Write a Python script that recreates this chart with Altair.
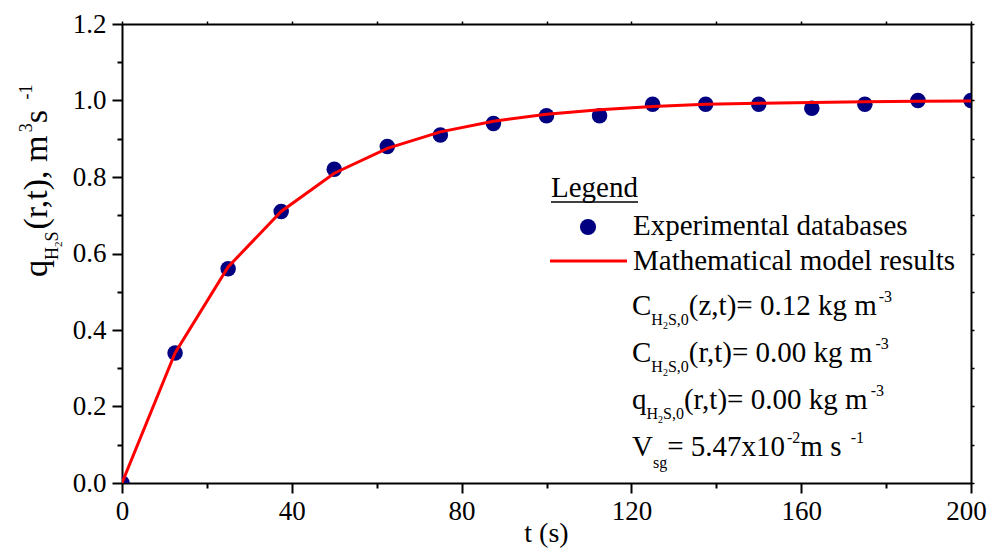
import altair as alt
import pandas as pd

# ---------------- data ----------------
t_exp = [0, 12.5, 25, 37.5, 50, 62.5, 75, 87.5, 100, 112.5, 125, 137.5, 150, 162.5, 175, 187.5, 200]
q_exp = [0.00, 0.34, 0.56, 0.71, 0.82, 0.88, 0.91, 0.94, 0.96, 0.96, 0.99, 0.99, 0.99, 0.98, 0.99, 1.00, 1.00]
t_model = [0, 12.5, 25, 37.5, 50, 62.5, 75, 87.5, 100, 112.5, 125, 137.5, 150, 162.5, 175, 187.5, 200]
q_model = [0.00, 0.34, 0.565, 0.71, 0.81, 0.875, 0.918, 0.946, 0.964, 0.976, 0.984, 0.99, 0.993, 0.995, 0.997, 0.998, 0.999]
x_ticks = [0, 20, 40, 60, 80, 100, 120, 140, 160, 180, 200]
y_ticks = [0.0, 0.1, 0.2, 0.3, 0.4, 0.5, 0.6, 0.7, 0.8, 0.9, 1.0, 1.1, 1.2]

FONT = "Liberation Serif"
W, H = 849, 459

df_exp = pd.DataFrame({"t": t_exp, "q": q_exp})
df_model = pd.DataFrame({"t": t_model, "q": q_model})

# Times / Liberation Serif advance widths (per 1000 em)
TW = {' ': 250, '(': 333, ')': 333, ',': 250, '.': 250, '-': 333, '=': 564,
      'C': 667, 'H': 722, 'S': 556, 'V': 722, 'L': 611, 'x': 500, 'z': 444, 't': 278,
      'r': 333, 'k': 500, 'g': 500, 'm': 778, 's': 389, 'q': 500, 'e': 444, 'n': 500, 'd': 500}


def tw(s, size):
    return sum(TW.get(c, 500) for c in s) * size / 1000.0


rows = []


def chain(x0, y0, pieces, angle=0):
    pos = 0.0
    for text, size, shift, gap in pieces:
        pos += gap
        if angle == 0:
            rows.append({"px": x0 + pos, "py": y0 + shift, "text": text, "fs": size, "ang": 0})
        else:
            rows.append({"px": x0 + shift, "py": y0 - pos, "text": text, "fs": size, "ang": 270})
        pos += tw(text, size)


M, S, SS = 29, 16, 10
LX = 510
chain(LX, 291, [("C", M, 0, 0), ("H", S, 10, 0), ("2", SS, 14, 0), ("S,0", S, 10, 0),
                ("(z,t)= 0.12 kg m", M, 0, 0), ("-3", S, -13, 2)])
chain(LX, 338, [("C", M, 0, 0), ("H", S, 10, 0), ("2", SS, 14, 0), ("S,0", S, 10, 0),
                ("(r,t)= 0.00 kg m", M, 0, 0), ("-3", S, -13, 2)])
chain(LX, 385, [("q", M, 0, 0), ("H", S, 10, 0), ("2", SS, 14, 0), ("S,0", S, 10, 0),
                ("(r,t)= 0.00 kg m", M, 0, 0), ("-3", S, -13, 2)])
chain(LX, 432, [("V", M, 0, 0), ("sg", S, 12, 0), ("= 5.47x10", M, 0, 0), ("-2", S, -13, 2),
                (" m s", M, 0, 0), ("-1", S, -13, 2)])
# legend texts
chain(429, 173, [("Legend", M, 0, 0)])
chain(511, 211, [("Experimental databases", M, 0, 0)])
chain(511, 246, [("Mathematical model results", M, 0, 0)])
# x title
rows.append({"px": W / 2 - tw("t (s)", 28) / 2, "py": 518, "text": "t (s)", "fs": 28, "ang": 0})
# y title (rotated)
YT, YS, YSS = 34, 18, 11
chain(-75, 253, [("q", YT, 0, 0), ("H", YS, 11, 0), ("2", YSS, 15, 0), ("S", YS, 11, 0),
                 ("(r,t), m", YT, 0, 2), ("3", YS, -15, 2), (" s", YT, 0, 0), ("-1", YS, -15, 2)],
      angle=270)

df_ann = pd.DataFrame(rows)

df_rules = pd.DataFrame([
    {"x": 429, "x2": 429 + tw("Legend", M), "y": 178, "c": "black", "w": 1.5},
    {"x": 428, "x2": 505, "y": 237, "c": "#FF0000", "w": 3},
])
df_sym = pd.DataFrame([{"x": 466, "y": 203}])

# ---------------- axes ----------------
x_axis = alt.Axis(
    values=x_ticks, title=None, grid=False,
    labelExpr="datum.value % 40 == 0 ? datum.label : ''",
    tickSize={"condition": {"test": "datum.value % 40 != 0", "value": 5}, "value": 10},
    labelOffset={"condition": {"test": "datum.value == 200", "value": -5}, "value": 0},
    labelFont=FONT, labelFontSize=27, labelColor="black", labelPadding=5,
    labelFlush=False, labelOverlap=False,
    tickColor="black", tickWidth=2, domainColor="black", domainWidth=2,
)
y_axis = alt.Axis(
    values=y_ticks, title=None, grid=False,
    labelExpr="round(datum.value*10) % 2 == 0 ? format(datum.value, '.1f') : ''",
    tickSize={"condition": {"test": "round(datum.value*10) % 2 != 0", "value": 5}, "value": 10},
    labelFont=FONT, labelFontSize=27, labelColor="black", labelPadding=6,
    labelFlush=False, labelOverlap=False,
    tickColor="black", tickWidth=2, domainColor="black", domainWidth=2,
)
# mirror axes (top / right): tiny ticks, no labels
x_mirror = alt.Axis(values=x_ticks, title=None, grid=False, labels=False, tickSize=3,
                    tickColor="black", tickWidth=1.5, domainColor="black", domainWidth=2)
y_mirror = alt.Axis(values=y_ticks, title=None, grid=False, labels=False, tickSize=3,
                    tickColor="black", tickWidth=1.5, domainColor="black", domainWidth=2)

xsc = alt.Scale(domain=[0, 200], nice=False, zero=False)
ysc = alt.Scale(domain=[0, 1.2], nice=False, zero=False)

pts = alt.Chart(df_exp).mark_circle(size=240, color="#000080", opacity=1, clip=True).encode(
    x=alt.X("t:Q", scale=xsc, axis=x_axis), y=alt.Y("q:Q", scale=ysc, axis=y_axis))
line = alt.Chart(df_model).mark_line(color="#FF0000", strokeWidth=3, clip=True).encode(
    x=alt.X("t:Q", scale=xsc, axis=x_mirror), y=alt.Y("q:Q", scale=ysc, axis=y_mirror))

ann = alt.Chart(df_ann).mark_text(font=FONT, align="left", baseline="alphabetic", color="black").encode(
    x=alt.X("px:Q", scale=None, axis=None),
    y=alt.Y("py:Q", scale=None, axis=None),
    text="text:N",
    size=alt.Size("fs:Q", scale=None, legend=None),
    angle=alt.Angle("ang:Q", scale=None),
)
rules = alt.Chart(df_rules).mark_rule().encode(
    x=alt.X("x:Q", scale=None, axis=None),
    x2="x2:Q",
    y=alt.Y("y:Q", scale=None, axis=None),
    color=alt.Color("c:N", scale=None, legend=None),
    strokeWidth=alt.StrokeWidth("w:Q", scale=None, legend=None),
)
sym = alt.Chart(df_sym).mark_circle(size=260, color="#000080", opacity=1).encode(
    x=alt.X("x:Q", scale=None, axis=None),
    y=alt.Y("y:Q", scale=None, axis=None),
)

chart = alt.layer(pts, line, ann, rules, sym).resolve_scale(
    x="independent", y="independent"
).properties(
    width=W, height=H,
    autosize=alt.AutoSizeParams(type="none"),
    padding={"left": 114, "top": 16, "right": 16, "bottom": 67},
    background="white",
).configure_view(stroke="black", strokeWidth=2).configure(font=FONT)

chart.save("out.html", embed_options={"renderer": "svg", "actions": False})
